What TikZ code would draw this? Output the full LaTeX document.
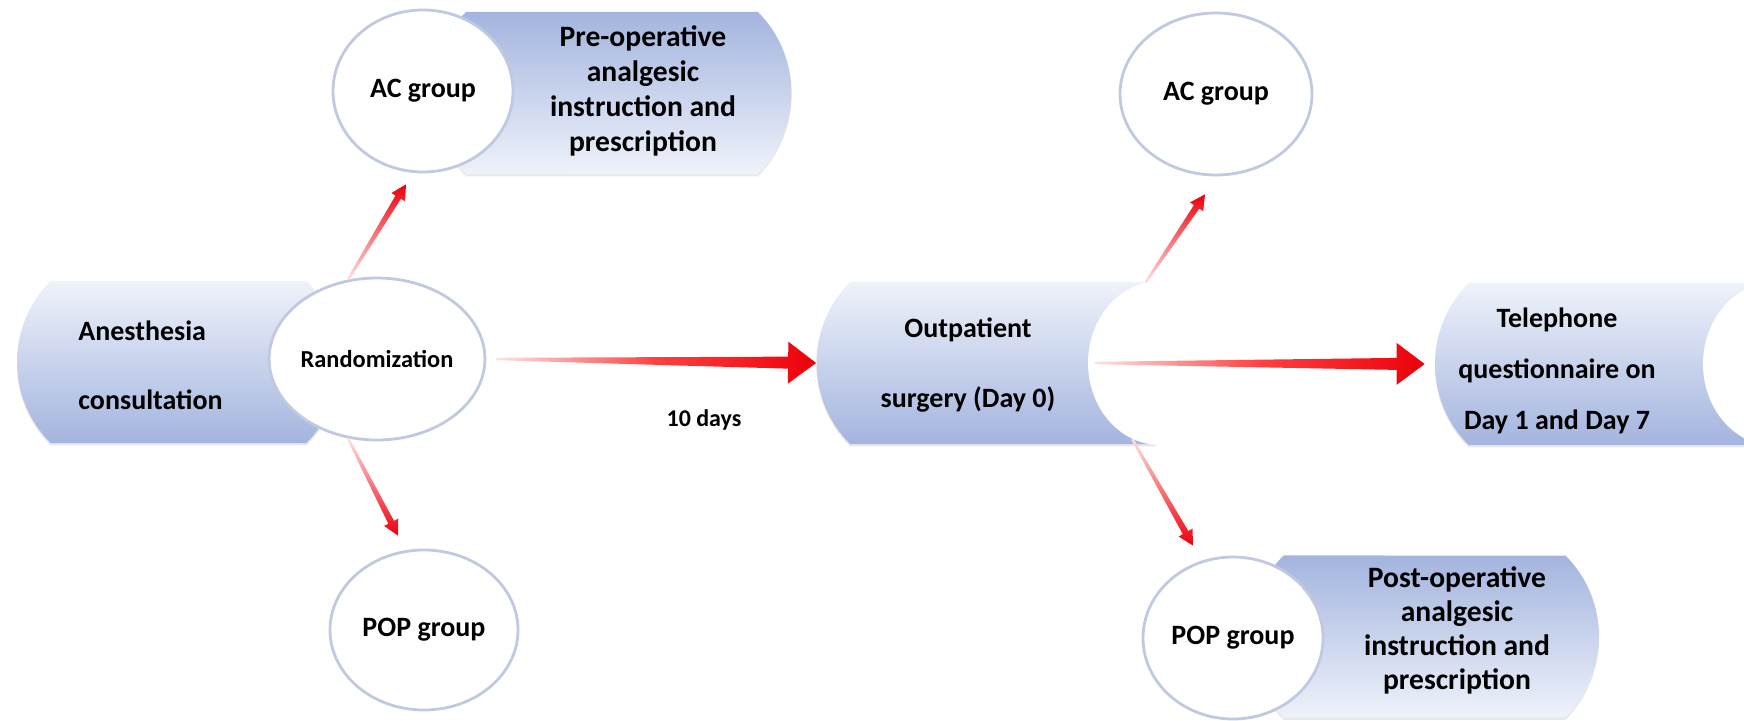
\documentclass[tikz,border=0pt]{standalone}
\usepackage{fontspec}
\setmainfont{Carlito}
\usetikzlibrary{shapes.geometric,shapes.misc,calc,shadows,positioning}
\definecolor{tubetop}{RGB}{238,242,250}
\definecolor{tubebot}{RGB}{163,180,222}
\definecolor{ringline}{RGB}{192,201,224}
\definecolor{arrowred}{RGB}{236,0,10}
\tikzset{
  tube/.style={rounded rectangle, rounded rectangle arc length=90, minimum height=81pt,
    inner sep=0pt, top color=tubetop, bottom color=tubebot,
    drop shadow={opacity=0.18, shadow xshift=0pt, shadow yshift=-1.2pt}},
  tubeflip/.style={tube, top color=tubebot, bottom color=tubetop},
  ring/.style={ellipse, draw=ringline, line width=1.4pt, fill=white, minimum width=90pt,
    minimum height=81pt, inner sep=0pt, font=\fontsize{14}{16}\selectfont\bfseries},
  cut/.style={ellipse, fill=white, minimum width=72pt, minimum height=82pt, inner sep=0pt},
  lbl/.style={font=\fontsize{14}{#1}\selectfont\bfseries, align=center, inner sep=0pt},
  lblbig/.style={font=\fontsize{14.8}{#1}\selectfont\bfseries, align=center, inner sep=0pt}
}
\newcommand\taper[6]{%
  \coordinate (hb) at ($(#3)!#5!(#2)$);
  \shade[#1] ($(#2)!0.6pt!-90:(#3)$) -- ($(hb)!#6!90:(#2)$) -- ($(hb)!#4!90:(#2)$) -- (#3)
    -- ($(hb)!#4!-90:(#2)$) -- ($(hb)!#6!-90:(#2)$) -- ($(#2)!0.6pt!90:(#3)$) -- cycle;}

\begin{document}
\begin{tikzpicture}[x=0.5pt,y=-0.5pt]
\useasboundingbox (0,0) rectangle (1744,721);
\clip (0,0) rectangle (1744,721);

\node[tube, minimum width=161.5pt] (anes) at (178.5,362) {};
\node[tubeflip, minimum width=179.5pt] (pre) at (612,93) {};
\node[tubeflip, minimum width=174.5pt] (post) at (1424.5,636.5) {};
\node[tube, minimum width=186.5pt] (surg) at (1003,363) {};
\node[tube, minimum width=182.5pt] (tele) at (1617.5,364) {};
\node[cut] (surgcut) at (1160,363) {};
\node[cut] (telecut) at (1775,364) {};

\node[ring, minimum width=96.5pt] (rand) at (377,359) {\fontsize{12.2}{14}\selectfont Randomization};
\node[ring] (acL) at (423,91) {AC group};
\node[ring, minimum width=94pt, minimum height=80pt] (popL) at (424,630) {POP group};
\node[ring, minimum width=96pt] (acR) at (1216,94) {AC group};
\node[ring] (popR) at (1233,638) {POP group};

\node[lbl=34.5pt, align=left, anchor=west] (anestxt) at (78,365) {Anesthesia\\consultation};
\node[lblbig=17.5pt] (pretxt) at (643,91) {Pre-operative\\analgesic\\instruction and\\prescription};
\node[lbl=35pt] (surgtxt) at (968,365) {Outpatient\\surgery (Day 0)};
\node[lbl=25.5pt] (teletxt) at (1557,371) {Telephone\\questionnaire on\\Day 1 and Day 7};
\node[lblbig=17pt] (posttxt) at (1457,630) {Post-operative\\analgesic\\instruction and\\prescription};
\node[font=\fontsize{12}{14}\selectfont\bfseries] (days) at (704,420) {10 days};

\coordinate (acLin) at ($(acL.south)+(-17,11)$);
\coordinate (popLin) at ($(popL.north)+(-26,-13)$);
\coordinate (acRin) at ($(acR.south)+(-11,18)$);
\coordinate (popRin) at ($(popR.north)+(-40,-10)$);
\coordinate (randout) at ($(rand.east)+(10,0)$);
\coordinate (surgout) at ($(surgcut.west)+(8,0)$);
\coordinate (telein) at ($(tele.west)+(-10,0)$);

\taper{bottom color=red!12, top color=arrowred}{rand.110}{acLin}{4pt}{7.5pt}{1.6pt}
\taper{top color=red!12, bottom color=arrowred}{rand.250}{popLin}{4pt}{7.5pt}{1.6pt}
\taper{left color=red!12, right color=arrowred, middle color=red!75}{randout}{surg.west}{10.5pt}{14pt}{3pt}
\taper{bottom color=red!12, top color=arrowred}{surgcut.100}{acRin}{4pt}{7.5pt}{1.6pt}
\taper{top color=red!12, bottom color=arrowred}{surgcut.250}{popRin}{4pt}{7.5pt}{1.6pt}
\taper{left color=red!12, right color=arrowred, middle color=red!75}{surgout}{telein}{10.5pt}{14pt}{3pt}
\end{tikzpicture}
\end{document}
